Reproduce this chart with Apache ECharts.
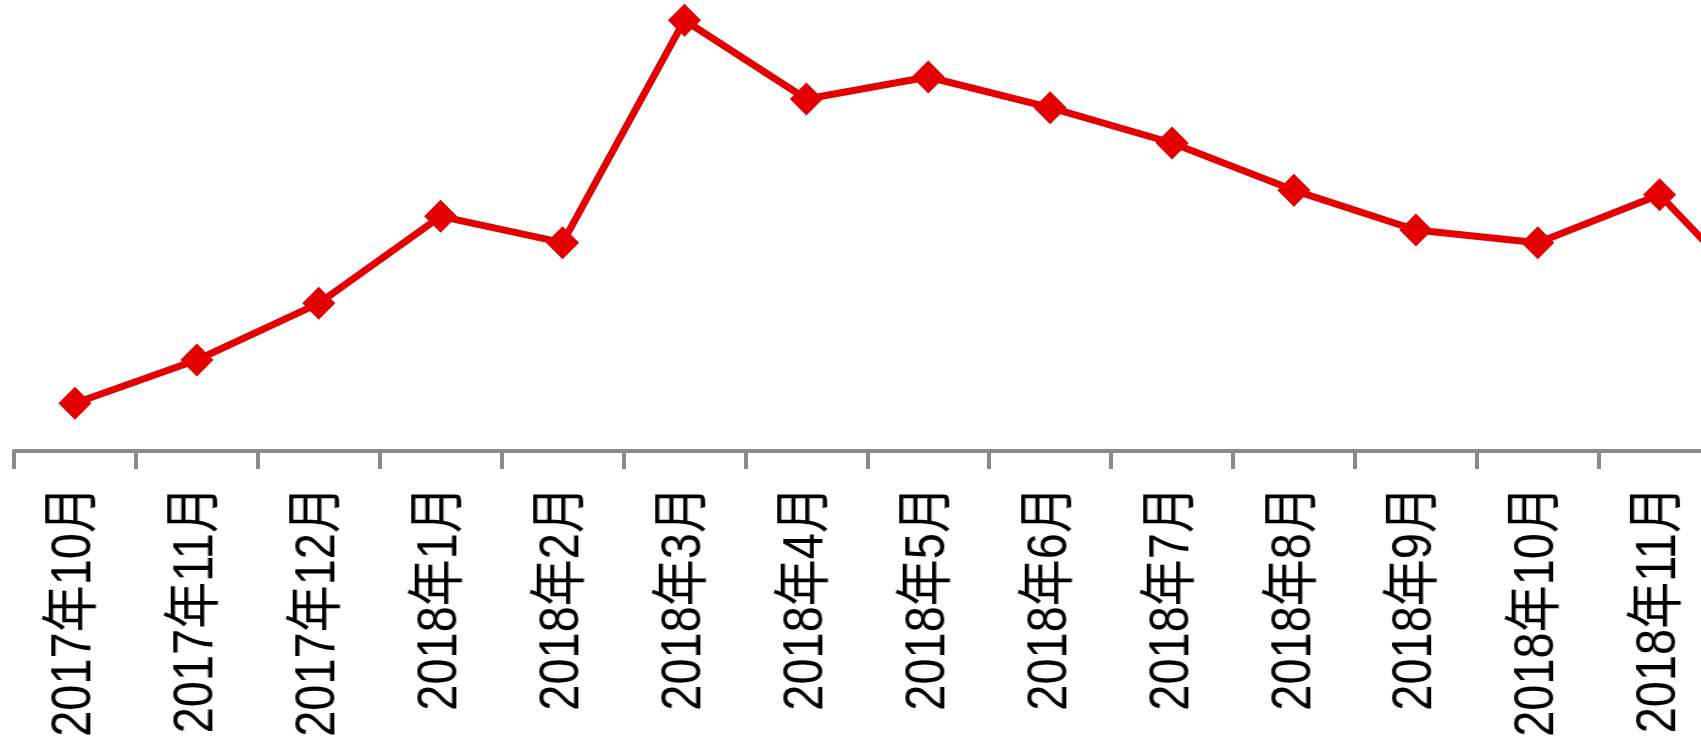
<!DOCTYPE html>
<html>
<head>
<meta charset="utf-8">
<script src="https://cdn.jsdelivr.net/npm/echarts@6/dist/echarts.min.js"></script>
<style>
  html, body { margin: 0; padding: 0; background: #ffffff; }
  #wrap { position: relative; width: 1701px; height: 747px; overflow: hidden; }
  #chart { position: absolute; left: 0; top: 0; width: 1701px; height: 747px; }
  #labels { position: absolute; left: 0; top: 0; height: 747px; transform-origin: 0 0; pointer-events: none; }
</style>
</head>
<body>
<div id="wrap">
  <div id="chart"></div>
  <div id="labels"></div>
</div>
<script>
// Category labels (the last one is cut off by the right edge in the reference)
const categories = [
  '2017年10月', '2017年11月', '2017年12月',
  '2018年1月', '2018年2月', '2018年3月', '2018年4月', '2018年5月',
  '2018年6月', '2018年7月', '2018年8月', '2018年9月', '2018年10月',
  '2018年11月', '2018年12月'
];

// Series values (no value axis is shown; values read as relative heights)
const values = [
  47.7, 91.0, 147.7, 234.7, 208.3, 430.7, 352.0, 374.0,
  343.3, 308.0, 260.7, 221.0, 208.3, 256.3, 128.5
];

const yMin = 0;
const yMax = 451;

// layout constants
const W = 1701, H = 747;
const gridLeft = 14, gridTop = 0, gridBottom = 296;
const band = 121.9;
const gridWidth = band * categories.length;
// the reference's label glyphs are taller than wide; the label layer is stretched horizontally
const k = 1.22;

const labelsDiv = document.getElementById('labels');
labelsDiv.style.width = (W / k) + 'px';
labelsDiv.style.transform = 'scaleX(' + k + ')';

const chart = echarts.init(document.getElementById('chart'), null, { renderer: 'canvas' });
const labelChart = echarts.init(labelsDiv, null, { renderer: 'canvas' });

chart.setOption({
  animation: false,
  backgroundColor: '#ffffff',
  grid: {
    left: gridLeft, top: gridTop, bottom: gridBottom, width: gridWidth,
    containLabel: false, outerBoundsMode: 'none'
  },
  xAxis: {
    type: 'category',
    data: categories,
    boundaryGap: true,
    axisLine: { show: true, lineStyle: { color: '#8a8a8a', width: 4 } },
    axisTick: { show: true, length: 18, lineStyle: { color: '#8a8a8a', width: 4 } },
    axisLabel: { show: false },
    splitLine: { show: false }
  },
  yAxis: { type: 'value', min: yMin, max: yMax, show: false },
  series: [{
    type: 'line',
    data: values,
    symbol: 'diamond',
    symbolSize: 33,
    showAllSymbol: true,
    lineStyle: { color: '#e40000', width: 7 },
    itemStyle: { color: '#e40000' }
  }]
});

labelChart.setOption({
  animation: false,
  grid: {
    left: gridLeft / k, top: gridTop, bottom: gridBottom, width: gridWidth / k,
    containLabel: false, outerBoundsMode: 'none'
  },
  xAxis: {
    type: 'category',
    data: categories,
    boundaryGap: true,
    axisLine: { show: false },
    axisTick: { show: false },
    axisLabel: {
      interval: 0,
      rotate: 90,
      margin: 35,
      hideOverlap: false,
      color: '#000000',
      fontFamily: "'Liberation Sans', Arial, 'Noto Sans CJK SC', sans-serif",
      fontSize: 47
    },
    splitLine: { show: false }
  },
  yAxis: { type: 'value', min: yMin, max: yMax, show: false },
  series: []
});
</script>
</body>
</html>
